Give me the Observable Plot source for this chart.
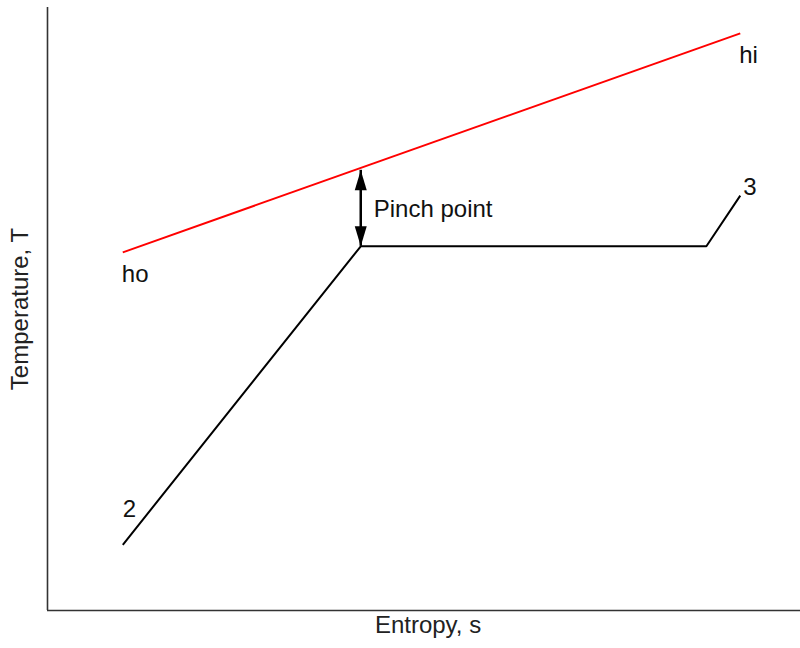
<!DOCTYPE html>
<html>
<head>
<meta charset="utf-8">
<script src="https://cdn.jsdelivr.net/npm/d3@7"></script>
<script src="https://cdn.jsdelivr.net/npm/@observablehq/plot@0.6"></script>
<style>
  html, body { margin: 0; padding: 0; background: #fff; }
  #chart svg { display: block; }
</style>
</head>
<body>
<div id="chart"></div>
<script>
// T–s sketch of a heat-recovery process: hot gas line and working-fluid line
const hotS = [1.0, 9.2];
const hotT = [5.94, 9.57];
const hotLabels = ["ho", "hi"];

const fluidS = [1.0, 4.16, 8.75, 9.2];
const fluidT = [1.09, 6.04, 6.04, 6.88];
const fluidLabels = ["2", "", "", "3"];

// pinch: vertical gap between the two lines at the evaporation start
const pinchS = 4.16;
const pinchLow = 6.04;
const pinchHigh = 7.30;
const pinchLabel = "Pinch point";

const xLabel = "Entropy, s";
const yLabel = "Temperature, T";

const hot = hotS.map((s, i) => ({s, T: hotT[i], label: hotLabels[i]}));
const fluid = fluidS.map((s, i) => ({s, T: fluidT[i], label: fluidLabels[i]}));

// slender filled arrowheads, tip at the origin
const headUp = {draw(ctx) { ctx.moveTo(0, 0); ctx.lineTo(6, 20); ctx.lineTo(-6, 20); ctx.closePath(); }};
const headDown = {draw(ctx) { ctx.moveTo(0, 0); ctx.lineTo(6, -20); ctx.lineTo(-6, -20); ctx.closePath(); }};

const font = "Liberation Sans, Arial, Helvetica, sans-serif";
const fs = 24;

const chart = Plot.plot({
  width: 800,
  height: 648,
  marginLeft: 47,
  marginRight: 0,
  marginTop: 7,
  marginBottom: 38,
  style: {fontFamily: font, background: "#fff"},
  x: {domain: [0, 10], axis: null},
  y: {domain: [0, 10], axis: null},
  marks: [
    // frame: left and bottom axis lines
    Plot.ruleX([0], {stroke: "#333", strokeWidth: 1.6}),
    Plot.ruleY([0], {stroke: "#333", strokeWidth: 1.6}),
    Plot.text([xLabel], {frameAnchor: "bottom", textAnchor: "middle", dx: 4, dy: 22, fontSize: 24, fill: "#222"}),
    Plot.text([yLabel], {frameAnchor: "left", textAnchor: "middle", rotate: -90, dx: -27, fontSize: 24, fill: "#222"}),

    Plot.line(hot, {x: "s", y: "T", stroke: "#ff0000", strokeWidth: 2, strokeLinecap: "butt"}),
    Plot.line(fluid, {x: "s", y: "T", stroke: "#000", strokeWidth: 2, strokeLinecap: "butt", strokeLinejoin: "miter"}),

    // pinch arrow
    Plot.ruleX([pinchS], {y1: pinchLow, y2: pinchHigh, stroke: "#000", strokeWidth: 2.5}),
    Plot.dot([pinchHigh], {x: () => pinchS, y: d => d, symbol: headUp, fill: "#000", stroke: null}),
    Plot.dot([pinchLow], {x: () => pinchS, y: d => d, symbol: headDown, fill: "#000", stroke: null}),
    Plot.text([pinchLabel], {x: () => pinchS, y: () => (pinchLow + pinchHigh) / 2, text: d => d,
      textAnchor: "start", dx: 13, dy: 1, fontSize: fs, fill: "#111"}),

    // end-point labels
    Plot.text(hot, {x: "s", y: "T", text: "label", textAnchor: "start", dx: -1, dy: 22, fontSize: fs, fill: "#111"}),
    Plot.text(fluid.filter(d => d.label === "2"), {x: "s", y: "T", text: "label", textAnchor: "start", dx: 0, dy: -35, fontSize: fs, fill: "#111"}),
    Plot.text(fluid.filter(d => d.label === "3"), {x: "s", y: "T", text: "label", textAnchor: "start", dx: 3, dy: -8, fontSize: fs, fill: "#111"})
  ]
});

document.getElementById("chart").appendChild(chart);
</script>
</body>
</html>
